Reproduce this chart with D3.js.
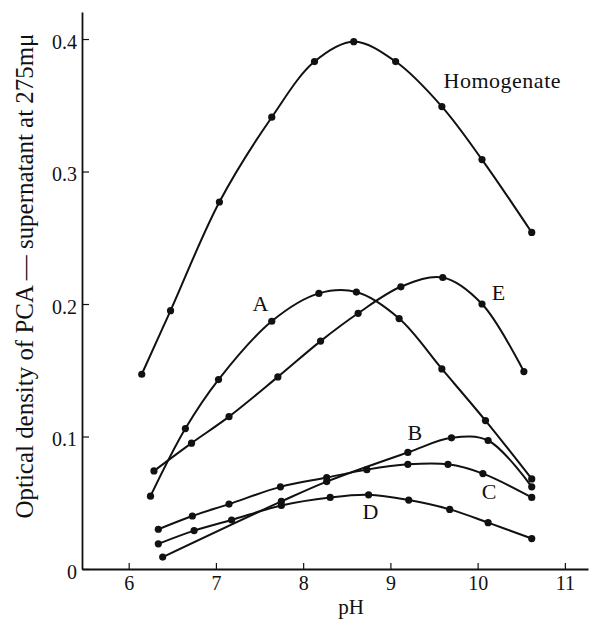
<!DOCTYPE html>
<html lang="en">
<head>
<meta charset="utf-8">
<title>Optical density of PCA-supernatant vs pH</title>
<script src="https://d3js.org/d3.v7.min.js"></script>
<style>
    body { margin: 0; background: #fff; }
    text { font-family: "Liberation Serif", "DejaVu Serif", serif; fill: #111; }
</style>
</head>
<body>
<script>

//Data (pH, optical density)
const phHomogenate = [6.15, 6.48, 7.04, 7.64, 8.13, 8.58, 9.06, 9.59, 10.05, 10.62];
const odHomogenate = [0.147, 0.195, 0.277, 0.341, 0.383, 0.398, 0.383, 0.349, 0.309, 0.254];

const phA = [6.25, 6.65, 7.03, 7.64, 8.18, 8.61, 9.10, 9.59, 10.09, 10.62];
const odA = [0.055, 0.106, 0.143, 0.187, 0.208, 0.209, 0.189, 0.151, 0.112, 0.068];

const phB = [6.39, 7.75, 8.27, 9.20, 9.70, 10.12, 10.62];
const odB = [0.009, 0.051, 0.066, 0.088, 0.099, 0.097, 0.062];

const phC = [6.34, 6.73, 7.15, 7.74, 8.27, 8.73, 9.20, 9.66, 10.06, 10.62];
const odC = [0.030, 0.040, 0.049, 0.062, 0.069, 0.075, 0.079, 0.079, 0.072, 0.054];

const phD = [6.34, 6.75, 7.18, 7.75, 8.31, 8.75, 9.21, 9.68, 10.12, 10.62];
const odD = [0.019, 0.029, 0.037, 0.048, 0.054, 0.056, 0.052, 0.045, 0.035, 0.023];

const phE = [6.29, 6.72, 7.15, 7.71, 8.20, 8.63, 9.12, 9.60, 10.05, 10.53];
const odE = [0.074, 0.095, 0.115, 0.145, 0.172, 0.193, 0.213, 0.220, 0.200, 0.149];

const seriesNames = ["Homogenate", "A", "B", "C", "D", "E"];
const xTicks = [6, 7, 8, 9, 10, 11];
const yTicks = [0, 0.1, 0.2, 0.3, 0.4];
const yTickLabels = ["0", "0.1", "0.2", "0.3", "0.4"];
const xTitle = "pH";
const yTitle = "Optical density of PCA \u2014 supernatant at 275m\u03bc";

//Build series table
const phs = [phHomogenate, phA, phB, phC, phD, phE];
const ods = [odHomogenate, odA, odB, odC, odD, odE];
const series = seriesNames.map((name, i) => ({
    name: name,
    points: phs[i].map((p, j) => ({ ph: p, od: ods[i][j] }))
}));

//Size
const width = 590;
const height = 621;

const svg = d3.select("body")
    .append("svg")
    .attr("width", width)
    .attr("height", height);

//Scales
const xScale = d3.scaleLinear()
    .domain([5.465, 11.265])
    .range([82, 588]);

const yScale = d3.scaleLinear()
    .domain([0, 0.4204])
    .range([569, 12]);

//Axes
const bottomAxis = d3.axisBottom(xScale)
    .tickValues(xTicks)
    .tickFormat(d3.format("d"))
    .tickSizeInner(-6)
    .tickSizeOuter(0);

const gx = svg.append("g")
    .attr("transform", "translate(0," + yScale(0) + ")")
    .call(bottomAxis);
gx.selectAll("text")
    .attr("y", 21)
    .attr("dy", 0)
    .attr("font-size", "20px")
    .attr("font-family", "Liberation Serif");

const leftAxis = d3.axisLeft(yScale)
    .tickValues(yTicks)
    .tickFormat((d, i) => yTickLabels[i])
    .tickSizeInner(-7)
    .tickSizeOuter(0);

const gy = svg.append("g")
    .attr("transform", "translate(" + xScale.range()[0] + ",0)")
    .call(leftAxis);
gy.selectAll("text")
    .attr("x", -5)
    .attr("dy", "0.45em")
    .attr("font-size", "20px")
    .attr("font-family", "Liberation Serif");

svg.selectAll(".domain").attr("stroke", "#111").attr("stroke-width", 1.8);
svg.selectAll(".tick line").attr("stroke", "#111").attr("stroke-width", 1.2);

//Axis titles
svg.append("text")
    .attr("x", 351)
    .attr("y", 614)
    .attr("text-anchor", "middle")
    .attr("font-size", "21px")
    .text(xTitle);

svg.append("text")
    .attr("transform", "translate(33,276) rotate(-90)")
    .attr("text-anchor", "middle")
    .attr("font-size", "26px")
    .attr("textLength", 485)
    .attr("lengthAdjust", "spacingAndGlyphs")
    .text(yTitle);

//Lines
const line = d3.line()
    .x(d => xScale(d.ph))
    .y(d => yScale(d.od))
    .curve(d3.curveCatmullRom.alpha(0.5));

svg.selectAll(".curve")
    .data(series)
    .enter()
    .append("path")
    .attr("class", "curve")
    .attr("d", d => line(d.points))
    .attr("fill", "none")
    .attr("stroke", "#111")
    .attr("stroke-width", 2);

//Points
svg.selectAll(".pts")
    .data(series)
    .enter()
    .append("g")
    .attr("class", "pts")
    .selectAll("circle")
    .data(d => d.points)
    .enter()
    .append("circle")
    .attr("cx", d => xScale(d.ph))
    .attr("cy", d => yScale(d.od))
    .attr("r", 3.6)
    .attr("fill", "#111");

//Curve labels (placed in data units)
const labelSpots = {
    "Homogenate": { ph: 9.61, od: 0.363, anchor: "start" },
    "A": { ph: 7.51, od: 0.195, anchor: "middle" },
    "B": { ph: 9.28, od: 0.0977, anchor: "middle" },
    "C": { ph: 10.13, od: 0.0525, anchor: "middle" },
    "D": { ph: 8.77, od: 0.0374, anchor: "middle" },
    "E": { ph: 10.24, od: 0.2034, anchor: "middle" }
};

svg.selectAll(".lbl")
    .data(series)
    .enter()
    .append("text")
    .attr("class", "lbl")
    .attr("x", d => xScale(labelSpots[d.name].ph))
    .attr("y", d => yScale(labelSpots[d.name].od))
    .attr("text-anchor", d => labelSpots[d.name].anchor)
    .attr("font-size", "22px")
    .attr("letter-spacing", d => d.name.length > 1 ? "0.5px" : "0px")
    .text(d => d.name);

</script>
</body>
</html>
